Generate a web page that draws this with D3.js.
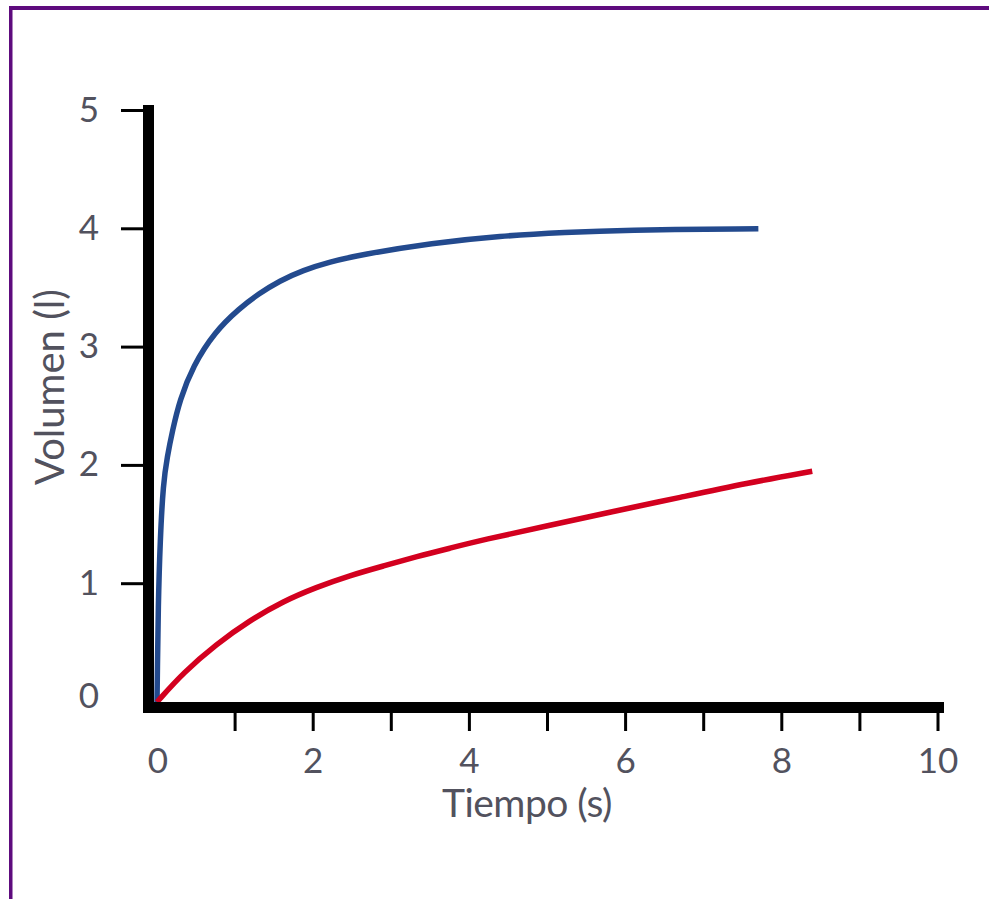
<!DOCTYPE html>
<html>
<head>
<meta charset="utf-8">
<script src="https://cdn.jsdelivr.net/npm/d3@7/dist/d3.min.js"></script>
<style>
  html, body { margin: 0; padding: 0; background: #ffffff; }
  svg { display: block; }
  text { font-family: Lato, "Open Sans", sans-serif; fill: #52525e; }
</style>
</head>
<body>
<svg id="chart" width="989" height="899"></svg>
<script>
// ---- data ----
const xTickValues = [1, 2, 3, 4, 5, 6, 7, 8, 9, 10];
const xTickLabels = [0, 2, 4, 6, 8, 10];
const yTickValues = [1, 2, 3, 4, 5];
const yTickLabels = [0, 1, 2, 3, 4, 5];
const xTitle = "Tiempo (s)";
const yTitle = "Volumen (l)";

// blue curve (time s, volume l)
const blueT = [0, 0.005, 0.015, 0.04, 0.08, 0.13, 0.20, 0.29, 0.46, 0.74, 1.06, 1.30, 1.57, 1.87, 2.21, 2.60, 3.53, 4.39, 5.25, 5.93, 7.70];
const blueV = [0, 0.25, 0.80, 1.37, 1.85, 2.07, 2.30, 2.55, 2.84, 3.13, 3.33, 3.45, 3.56, 3.65, 3.72, 3.78, 3.88, 3.94, 3.97, 3.99, 4.00];
// red curve
const redT = [0, 0.34, 0.76, 1.19, 1.61, 2.04, 2.47, 2.90, 3.33, 3.75, 4.17, 5.00, 5.84, 6.70, 7.55, 8.39];
const redV = [0, 0.25, 0.49, 0.69, 0.85, 0.97, 1.07, 1.15, 1.23, 1.30, 1.37, 1.49, 1.61, 1.73, 1.85, 1.95];

// ---- drawing ----
const svg = d3.select("#chart");
const x = d3.scaleLinear().domain([0, 10]).range([157, 938]);
const y = d3.scaleLinear().domain([0, 5]).range([702, 110.5]);

// purple frame (top and left)
svg.append("rect").attr("x", 9).attr("y", 6).attr("width", 989 - 9).attr("height", 4).attr("fill", "#5e0b7e");
svg.append("rect").attr("x", 9).attr("y", 6).attr("width", 3.5).attr("height", 899 - 6).attr("fill", "#5e0b7e");

// curves
const line = d3.line().x(d => x(d[0])).y(d => y(d[1])).curve(d3.curveBasis);
const blue = blueT.map((t, i) => [t, blueV[i]]);
const red = redT.map((t, i) => [t, redV[i]]);

svg.append("path").datum(blue).attr("d", line)
  .attr("fill", "none").attr("stroke", "#234a8e").attr("stroke-width", 5.5).attr("stroke-linecap", "butt");
svg.append("path").datum(red).attr("d", line)
  .attr("fill", "none").attr("stroke", "#d3001f").attr("stroke-width", 5.5).attr("stroke-linecap", "butt");

// axis bars
const axisLeftX = x(0) - 14;      // left edge of the vertical bar
const barW = 11;
svg.append("rect").attr("x", axisLeftX).attr("y", 105).attr("width", barW).attr("height", y(0) + barW - 105).attr("fill", "#000");
svg.append("rect").attr("x", axisLeftX).attr("y", y(0)).attr("width", 944 - axisLeftX).attr("height", barW).attr("fill", "#000");

// y ticks
svg.selectAll(".ytick").data(yTickValues).join("rect")
  .attr("class", "ytick")
  .attr("x", axisLeftX - 22).attr("width", 22)
  .attr("y", d => y(d) - 1.5).attr("height", 3)
  .attr("fill", "#000");

// x ticks
svg.selectAll(".xtick").data(xTickValues).join("rect")
  .attr("class", "xtick")
  .attr("x", d => x(d) - 1.5).attr("width", 3)
  .attr("y", y(0) + barW).attr("height", 18)
  .attr("fill", "#000");

// y tick labels
svg.selectAll(".ylab").data(yTickLabels).join("text")
  .attr("class", "ylab")
  .attr("x", 89)
  .attr("y", d => y(d) + (d === 0 ? -8 : -3))
  .attr("text-anchor", "middle")
  .attr("dominant-baseline", "central")
  .attr("font-size", 35)
  .text(d => d);

// x tick labels
svg.selectAll(".xlab").data(xTickLabels).join("text")
  .attr("class", "xlab")
  .attr("x", d => x(d) + (d === 0 ? 1 : 0))
  .attr("y", 773)
  .attr("text-anchor", "middle")
  .attr("font-size", 35)
  .text(d => d);

// axis titles
svg.append("text")
  .attr("x", 527).attr("y", 817)
  .attr("text-anchor", "middle")
  .attr("font-size", 39)
  .attr("letter-spacing", -0.5)
  .text(xTitle);

svg.append("text")
  .attr("transform", "translate(64,387) rotate(-90)")
  .attr("text-anchor", "middle")
  .attr("font-size", 40)
  .attr("letter-spacing", 0)
  .text(yTitle);
</script>
</body>
</html>
